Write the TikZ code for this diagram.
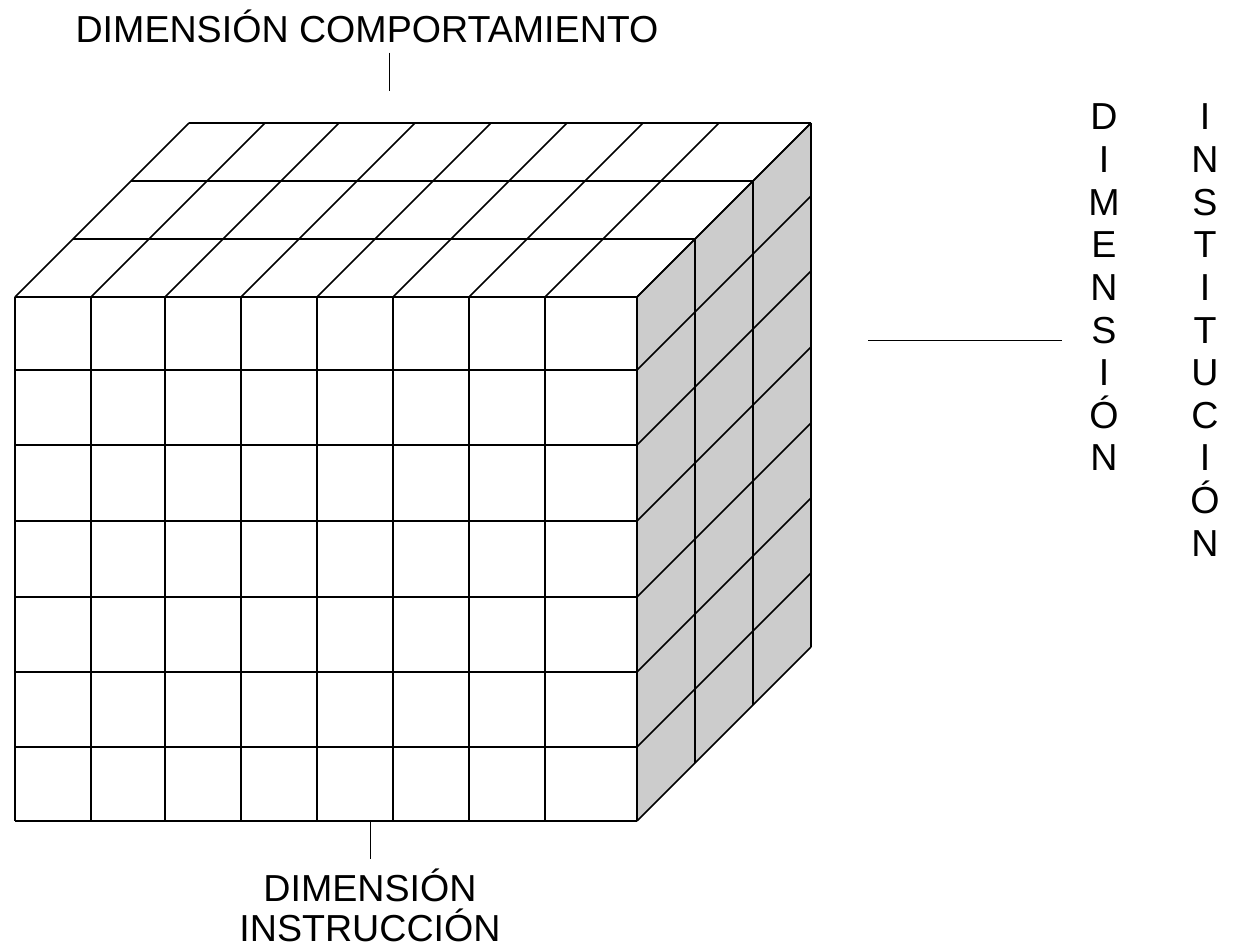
\documentclass[tikz,border=0pt]{standalone}
\usepackage{fontspec}
\setmainfont{Liberation Sans}
\begin{document}
\begin{tikzpicture}[x=1pt,y=-1pt,line width=1.5pt,line join=miter,
  lbl/.style={font=\fontsize{37.6}{42}\selectfont,inner sep=0pt,anchor=base},
  face/.style={fill=black!20,draw=none},
  tick/.style={draw=black,line width=1.5pt}]
\useasboundingbox (0,0) rectangle (1234,952);
\def\xs{15,91,165,241,317,393,469,545,637}
\def\ys{297,370,445,521,597,672,747,821}
% shaded right face
\fill[face] (637,297) -- (811,123) -- (811,647) -- (637,821) -- cycle;
% front grid
\foreach \x in \xs \draw (\x,297) -- (\x,821);
\foreach \y in \ys \draw (15,\y) -- (637,\y);
% top face
\foreach \x in \xs \draw (\x,297) -- ++(174,-174);
\foreach \d in {58,116,174} \draw (15+\d,297-\d) -- (637+\d,297-\d);
% right face
\foreach \y in \ys \draw (637,\y) -- ++(174,-174);
\foreach \d in {58,116,174} \draw (637+\d,297-\d) -- (637+\d,821-\d);
% labels
\node[lbl] (comp) at (367,42.7) {DIMENSIÓN COMPORTAMIENTO};
\coordinate (compA) at (389.3,52.7);
\coordinate (compB) at (389.3,90.7);
\draw[tick] (compA) -- (compB);
\node[lbl] (instrA) at (370,901.7) {DIMENSIÓN};
\node[lbl] (instrB) at (370,941.7) {INSTRUCCIÓN};
\coordinate (instrT1) at (370.7,821);
\coordinate (instrT2) at (370.7,859.3);
\draw[tick] (instrT1) -- (instrT2);
\coordinate (instL1) at (868.3,340.7);
\coordinate (instL2) at (1061.7,340.7);
\draw[tick] (instL1) -- (instL2);
\foreach \l [count=\i from 0] in {D,I,M,E,N,S,I,Ó,N}
  \node[lbl] (dim\i) at (1104,130+42.6*\i) {\l};
\foreach \l [count=\i from 0] in {I,N,S,T,I,T,U,C,I,Ó,N}
  \node[lbl] (ins\i) at (1205,130+42.6*\i) {\l};
\end{tikzpicture}
\end{document}
